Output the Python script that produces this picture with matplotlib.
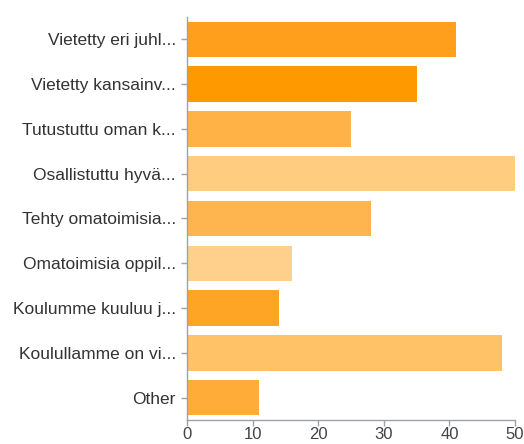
import matplotlib
matplotlib.use("Agg")
import matplotlib.pyplot as plt

categories = [
    "Vietetty eri juhl...",
    "Vietetty kansainv...",
    "Tutustuttu oman k...",
    "Osallistuttu hyvä...",
    "Tehty omatoimisia...",
    "Omatoimisia oppil...",
    "Koulumme kuuluu j...",
    "Koulullamme on vi...",
    "Other",
]
values = [41, 35, 25, 50, 28, 16, 14, 48, 11]
colors = ["#FF9F1C", "#FF9900", "#FFB347", "#FFCC80", "#FFB54F",
          "#FFD08C", "#FFA526", "#FFC266", "#FFAC38"]
xticks = [0, 10, 20, 30, 40, 50]

plt.rcParams['font.family'] = ['Liberation Sans', 'DejaVu Sans']

fig = plt.figure(figsize=(5.24, 4.44), dpi=100)
ax = fig.add_axes([0.357, 0.054, 0.626, 0.908])

y = list(range(len(categories)))
ax.barh(y, values, height=0.79, color=colors, edgecolor='none')
ax.set_ylim(len(categories) - 0.5, -0.5)
ax.set_xlim(0, 50)
ax.set_yticks(y)
ax.set_yticklabels(categories, fontsize=12.5, color='#333333')
ax.set_xticks(xticks)
ax.set_xticklabels([str(t) for t in xticks], fontsize=12, color='#444444')

for s in ['top', 'right']:
    ax.spines[s].set_visible(False)
for s in ['left', 'bottom']:
    ax.spines[s].set_color('#9aa3ad')
    ax.spines[s].set_linewidth(1)
ax.tick_params(axis='both', colors='#9aa3ad', length=4, width=1)
ax.tick_params(axis='y', labelcolor='#333333', pad=4)
ax.tick_params(axis='x', labelcolor='#444444', pad=1)

fig.savefig("out.png", dpi=100)
